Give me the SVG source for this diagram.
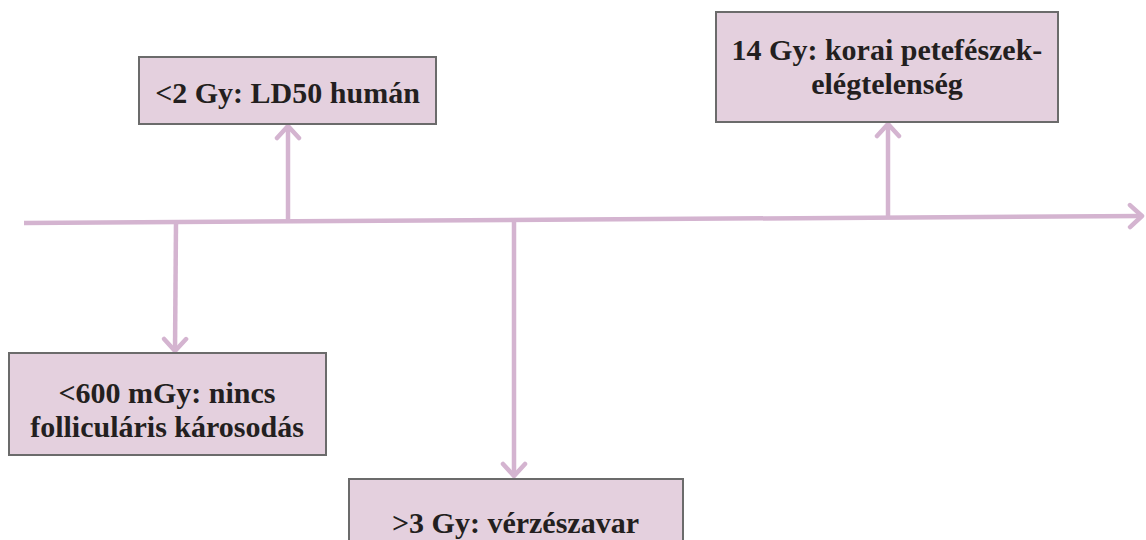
<svg xmlns="http://www.w3.org/2000/svg" width="1146" height="540" viewBox="0 0 1146 540">
<style>
.box{fill:#e4d0de;stroke:#6b6b6b;stroke-width:2}
.t{font-weight:700;font-size:30px;fill:#231f20;text-anchor:middle}
.c{fill:none;stroke:#d4b4d0;stroke-width:4.5}
</style>
<defs>
<marker id="ah" markerUnits="userSpaceOnUse" viewBox="-16 -14 20 28" refX="0" refY="0" markerWidth="20" markerHeight="28" orient="auto">
<path d="M-12,-11 L0,0 L-12,11" fill="none" stroke="#d4b4d0" stroke-width="4.5" stroke-linecap="round" stroke-linejoin="round"/>
</marker>
</defs>
<rect width="1146" height="540" fill="#ffffff"/>
<g id="connectors">
<path class="c" d="M24,223 L1142,216" marker-end="url(#ah)"/>
<path class="c" d="M288,220 L288,126" marker-end="url(#ah)"/>
<path class="c" d="M888,217 L888,124" marker-end="url(#ah)"/>
<path class="c" d="M176,222 L175,351" marker-end="url(#ah)"/>
<path class="c" d="M514,219 L514,476" marker-end="url(#ah)"/>
</g>
<g font-family="'Liberation Serif', 'DejaVu Serif', serif">
<g id="node-ld50">
<rect class="box" x="139" y="57" width="297" height="67"/>
<text class="t" x="287.5" y="103">&lt;2 Gy: LD50 humán</text>
</g>
<g id="node-14gy">
<rect class="box" x="716" y="12" width="342" height="110"/>
<text class="t" x="887" y="60">14 Gy: korai petefészek-</text>
<text class="t" x="887" y="94">elégtelenség</text>
</g>
<g id="node-600mgy">
<rect class="box" x="9" y="353" width="317" height="102"/>
<text class="t" x="167" y="403">&lt;600 mGy: nincs</text>
<text class="t" x="167" y="437">folliculáris károsodás</text>
</g>
<g id="node-3gy">
<rect class="box" x="349" y="479" width="334" height="70"/>
<text class="t" x="515.5" y="533">&gt;3 Gy: vérzészavar</text>
</g>
</g>
</svg>
